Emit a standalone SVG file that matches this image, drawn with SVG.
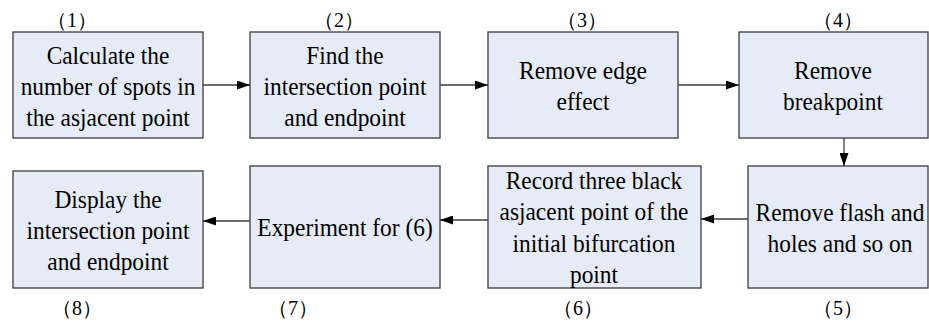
<svg xmlns="http://www.w3.org/2000/svg" width="929" height="321" viewBox="0 0 929 321">
<style>
.box{fill:#E6ECF7;stroke:#3c3c3c;stroke-width:1.3}
text{font-family:'Liberation Serif',serif}
.t{font-size:26px;fill:#000;text-anchor:middle}
.lbl{font-size:20px;fill:#000;text-anchor:middle}
.c{stroke:#3c3c3c;stroke-width:1.3;fill:none;marker-end:url(#ah)}
</style>
<defs>
<marker id="ah" markerUnits="userSpaceOnUse" markerWidth="13" markerHeight="9" refX="13" refY="4.5" orient="auto">
<path d="M0,0 L13,4.5 L0,9 z" fill="#000"/>
</marker>
</defs>
<rect width="929" height="321" fill="#fff"/>
<g id="n1">
<rect class="box" x="13" y="32" width="190" height="106"/>
<text class="t" font-family="Liberation Serif" transform="translate(108 0) scale(0.9 1)"><tspan x="0" y="64">Calculate the</tspan><tspan x="0" y="95">number of spots in</tspan><tspan x="0" y="126">the asjacent point</tspan></text>
<text class="lbl" font-family="Liberation Serif, Noto Sans CJK SC, serif" x="72" y="27">（1）</text>
</g>
<g id="n2">
<rect class="box" x="250" y="32" width="190" height="106"/>
<text class="t" font-family="Liberation Serif" transform="translate(345 0) scale(0.9 1)"><tspan x="0" y="64">Find the</tspan><tspan x="0" y="95">intersection point</tspan><tspan x="0" y="126">and endpoint</tspan></text>
<text class="lbl" font-family="Liberation Serif, Noto Sans CJK SC, serif" x="339" y="27">（2）</text>
</g>
<g id="n3">
<rect class="box" x="488" y="32" width="190" height="106"/>
<text class="t" font-family="Liberation Serif" transform="translate(583 0) scale(0.9 1)"><tspan x="0" y="79">Remove edge</tspan><tspan x="0" y="110">effect</tspan></text>
<text class="lbl" font-family="Liberation Serif, Noto Sans CJK SC, serif" x="582" y="27">（3）</text>
</g>
<g id="n4">
<rect class="box" x="739" y="32" width="189" height="106"/>
<text class="t" font-family="Liberation Serif" transform="translate(833 0) scale(0.9 1)"><tspan x="0" y="79">Remove</tspan><tspan x="0" y="110">breakpoint</tspan></text>
<text class="lbl" font-family="Liberation Serif, Noto Sans CJK SC, serif" x="838" y="27">（4）</text>
</g>
<g id="n5">
<rect class="box" x="748" y="166" width="180" height="122"/>
<text class="t" font-family="Liberation Serif" transform="translate(840 0) scale(0.9 1)"><tspan x="0" y="221">Remove flash and</tspan><tspan x="0" y="252">holes and so on</tspan></text>
<text class="lbl" font-family="Liberation Serif, Noto Sans CJK SC, serif" x="838" y="315">（5）</text>
</g>
<g id="n6">
<rect class="box" x="488" y="166" width="213" height="122"/>
<text class="t" font-family="Liberation Serif" transform="translate(594 0) scale(0.9 1)"><tspan x="0" y="189">Record three black</tspan><tspan x="0" y="220">asjacent point of the</tspan><tspan x="0" y="252">initial bifurcation</tspan><tspan x="0" y="283">point</tspan></text>
<text class="lbl" font-family="Liberation Serif, Noto Sans CJK SC, serif" x="578" y="315">（6）</text>
</g>
<g id="n7">
<rect class="box" x="250" y="166" width="190" height="122"/>
<text class="t" font-family="Liberation Serif" transform="translate(345 0) scale(0.9 1)"><tspan x="0" y="236">Experiment for (6)</tspan></text>
<text class="lbl" font-family="Liberation Serif, Noto Sans CJK SC, serif" x="293" y="315">（7）</text>
</g>
<g id="n8">
<rect class="box" x="13" y="171" width="190" height="117"/>
<text class="t" font-family="Liberation Serif" transform="translate(108 0) scale(0.9 1)"><tspan x="0" y="208">Display the</tspan><tspan x="0" y="239">intersection point</tspan><tspan x="0" y="270">and endpoint</tspan></text>
<text class="lbl" font-family="Liberation Serif, Noto Sans CJK SC, serif" x="77" y="315">（8）</text>
</g>
<g id="connectors">
<line class="c" x1="203" y1="85" x2="250" y2="85"/>
<line class="c" x1="440" y1="85" x2="488" y2="85"/>
<line class="c" x1="678" y1="85" x2="739" y2="85"/>
<line class="c" x1="844" y1="138" x2="844" y2="166"/>
<line class="c" x1="748" y1="219" x2="701" y2="219"/>
<line class="c" x1="488" y1="220" x2="440" y2="220"/>
<line class="c" x1="250" y1="221" x2="203" y2="221"/>
</g>
</svg>
